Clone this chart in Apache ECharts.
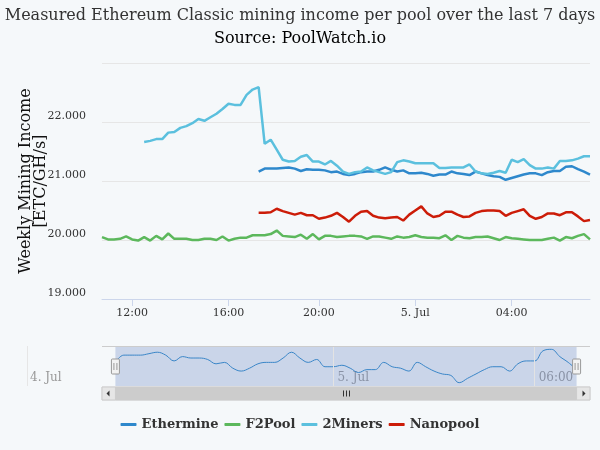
<!DOCTYPE html>
<html>
<head>
<meta charset="utf-8">
<script src="https://cdn.jsdelivr.net/npm/echarts@6/dist/echarts.min.js"></script>
<style>
  html, body { margin: 0; padding: 0; background: #f5f8fa; }
  #chart { width: 600px; height: 450px; }
</style>
</head>
<body>
<div id="chart"></div>
<script>
// Ordinal time axis: one slot per sample (15 min), 18:30 sample missing.
var times = [
  '07-04 10:45', '07-04 11:00', '07-04 11:15', '07-04 11:30', '07-04 11:45',
  '07-04 12:00', '07-04 12:15', '07-04 12:30', '07-04 12:45', '07-04 13:00',
  '07-04 13:15', '07-04 13:30', '07-04 13:45', '07-04 14:00', '07-04 14:15',
  '07-04 14:30', '07-04 14:45', '07-04 15:00', '07-04 15:15', '07-04 15:30',
  '07-04 15:45', '07-04 16:00', '07-04 16:15', '07-04 16:30', '07-04 16:45',
  '07-04 17:00', '07-04 17:15', '07-04 17:30', '07-04 17:45', '07-04 18:00',
  '07-04 18:15', '07-04 18:45', '07-04 19:00', '07-04 19:15', '07-04 19:30',
  '07-04 19:45', '07-04 20:00', '07-04 20:15', '07-04 20:30', '07-04 20:45',
  '07-04 21:00', '07-04 21:15', '07-04 21:30', '07-04 21:45', '07-04 22:00',
  '07-04 22:15', '07-04 22:30', '07-04 22:45', '07-04 23:00', '07-04 23:15',
  '07-04 23:30', '07-04 23:45', '07-05 00:00', '07-05 00:15', '07-05 00:30',
  '07-05 00:45', '07-05 01:00', '07-05 01:15', '07-05 01:30', '07-05 01:45',
  '07-05 02:00', '07-05 02:15', '07-05 02:30', '07-05 02:45', '07-05 03:00',
  '07-05 03:15', '07-05 03:30', '07-05 03:45', '07-05 04:00', '07-05 04:15',
  '07-05 04:30', '07-05 04:45', '07-05 05:00', '07-05 05:15', '07-05 05:30',
  '07-05 05:45', '07-05 06:00', '07-05 06:15', '07-05 06:30', '07-05 06:45',
  '07-05 07:00', '07-05 07:15'
];
var mainTicks = ['07-04 12:00', '07-04 16:00', '07-04 20:00', '07-05 00:00', '07-05 04:00'];
var navTicks = ['07-05 00:00', '07-05 06:00'];
var dayNames = { '07-04': '4. Jul', '07-05': '5. Jul' };

var ethermine = [
  null, null, null, null, null, null, null, null, null, null,
  null, null, null, null, null, null, null, null, null, null,
  null, null, null, null, null, null,
  21.16, 21.21, 21.21, 21.21, 21.22, 21.23, 21.21, 21.17, 21.20, 21.19,
  21.19, 21.18, 21.15, 21.16, 21.12, 21.10, 21.12, 21.15, 21.16, 21.16,
  21.19, 21.23, 21.19, 21.16, 21.18, 21.13, 21.13, 21.14, 21.12, 21.09,
  21.11, 21.11, 21.16, 21.13, 21.12, 21.10, 21.16, 21.13, 21.10, 21.08,
  21.07, 21.02, 21.05, 21.08, 21.11, 21.13, 21.13, 21.10, 21.15, 21.17,
  21.17, 21.24, 21.25, 21.20, 21.16, 21.11
];
var f2pool = [
  20.05, 20.01, 20.01, 20.02, 20.06, 20.01, 19.99, 20.05, 19.99, 20.07,
  20.01, 20.11, 20.02, 20.02, 20.02, 20.00, 20.00, 20.02, 20.02, 20.00,
  20.06, 19.99, 20.02, 20.04, 20.04, 20.08, 20.08, 20.08, 20.10, 20.16,
  20.07, 20.06, 20.05, 20.09, 20.02, 20.10, 20.01, 20.07, 20.07, 20.05,
  20.06, 20.07, 20.07, 20.06, 20.02, 20.06, 20.06, 20.04, 20.02, 20.06,
  20.04, 20.05, 20.08, 20.05, 20.04, 20.04, 20.03, 20.08, 20.00, 20.07,
  20.04, 20.03, 20.05, 20.05, 20.06, 20.03, 20.00, 20.05, 20.03, 20.02,
  20.01, 20.00, 20.00, 20.00, 20.02, 20.04, 19.99, 20.05, 20.03, 20.07,
  20.10, 20.01
];
var twoMiners = [
  null, null, null, null, null, null, null,
  21.66, 21.68, 21.71, 21.71, 21.82, 21.83, 21.90, 21.93, 21.98, 22.05,
  22.02, 22.08, 22.14, 22.22, 22.31, 22.29, 22.29, 22.46, 22.55, 22.59,
  21.63, 21.70, 21.53, 21.36, 21.33, 21.34, 21.41, 21.44, 21.33, 21.33,
  21.28, 21.34, 21.26, 21.16, 21.12, 21.15, 21.16, 21.23, 21.18, 21.15,
  21.12, 21.15, 21.32, 21.35, 21.33, 21.30, 21.30, 21.30, 21.30, 21.22,
  21.22, 21.23, 21.23, 21.23, 21.28, 21.16, 21.13, 21.12, 21.14, 21.17,
  21.14, 21.36, 21.32, 21.37, 21.27, 21.21, 21.21, 21.23, 21.21, 21.34,
  21.34, 21.35, 21.38, 21.42, 21.42
];
var nanopool = [
  null, null, null, null, null, null, null, null, null, null,
  null, null, null, null, null, null, null, null, null, null,
  null, null, null, null, null, null,
  20.46, 20.46, 20.47, 20.53, 20.49, 20.46, 20.43, 20.46, 20.42, 20.42,
  20.36, 20.38, 20.41, 20.46, 20.39, 20.31, 20.41, 20.48, 20.49, 20.41,
  20.38, 20.37, 20.38, 20.39, 20.33, 20.43, 20.50, 20.57, 20.45, 20.39,
  20.41, 20.48, 20.48, 20.43, 20.39, 20.40, 20.46, 20.49, 20.50, 20.50,
  20.49, 20.41, 20.46, 20.49, 20.52, 20.41, 20.36, 20.39, 20.45, 20.45,
  20.42, 20.47, 20.47, 20.40, 20.32, 20.34
];

var pools = [
  { name: 'Ethermine', data: ethermine, color: '#2e88cc' },
  { name: 'F2Pool', data: f2pool, color: '#5cb85c' },
  { name: '2Miners', data: twoMiners, color: '#5bc0de' },
  { name: 'Nanopool', data: nanopool, color: '#cc1c08' }
];

var FONT = '"DejaVu Serif", serif';

function timeLabel(c) {
  var t = c.slice(6);
  return t === '00:00' ? dayNames[c.slice(0, 5)] : t;
}
function isMainTick(i, c) { return mainTicks.indexOf(c) >= 0; }

// navigator shows the Ethermine series over its own extent
var navPoints = [];
ethermine.forEach(function (v, i) { if (v != null) navPoints.push([i, v]); });
var navStart = navPoints[0][0];
var navEnd = navPoints[navPoints.length - 1][0];
var navPad = 1.6;
var navTickIdx = navTicks.map(function (t) { return times.indexOf(t); });

var chart = echarts.init(document.getElementById('chart'), null, { renderer: 'canvas' });

var series = pools.map(function (p) {
  return {
    name: p.name,
    type: 'line',
    data: p.data,
    color: p.color,
    showSymbol: false,
    lineStyle: { width: 2.5, color: p.color },
    emphasis: { disabled: true },
    z: 3
  };
});
series.push({
  name: 'navigator',
  type: 'line',
  xAxisIndex: 1,
  yAxisIndex: 1,
  data: navPoints,
  smooth: 0.4,
  showSymbol: false,
  lineStyle: { width: 1, color: '#3a86c8' },
  emphasis: { disabled: true },
  markArea: {
    silent: true,
    itemStyle: { color: 'rgba(102,133,194,0.3)' },
    data: [[{ xAxis: navStart }, { xAxis: navEnd }]]
  },
  markLine: {
    silent: true,
    symbol: 'none',
    label: { show: false },
    lineStyle: { color: '#e3e3e3', width: 1, type: 'solid' },
    data: navTickIdx.map(function (i) { return { xAxis: i }; })
  }
});

chart.setOption({
  backgroundColor: '#f5f8fa',
  animation: false,
  textStyle: { fontFamily: FONT },
  title: {
    text: 'Measured Ethereum Classic mining income per pool over the last 7 days',
    subtext: 'Source: PoolWatch.io',
    left: 'center',
    top: 3,
    itemGap: 7,
    textStyle: { fontFamily: FONT, fontSize: 16, fontWeight: 'normal', color: '#333' },
    subtextStyle: { fontFamily: FONT, fontSize: 16, color: '#000' }
  },
  legend: {
    data: pools.map(function (p) { return p.name; }),
    left: 'center',
    top: 413,
    icon: 'roundRect',
    itemWidth: 16,
    itemHeight: 3,
    itemGap: 6,
    textStyle: { fontFamily: FONT, fontSize: 13, fontWeight: 'bold', color: '#333' }
  },
  grid: [
    { left: 102, top: 63, width: 488, height: 236 },
    { left: 102, top: 346, width: 488, height: 40 }
  ],
  xAxis: [
    {
      type: 'category',
      data: times,
      boundaryGap: false,
      axisLine: { lineStyle: { color: '#ccd6eb' } },
      axisTick: { interval: isMainTick, length: 7, lineStyle: { color: '#ccd6eb' } },
      axisLabel: { interval: isMainTick, formatter: timeLabel, color: '#333', fontSize: 11, fontFamily: FONT, margin: 9 },
      splitLine: { show: false }
    },
    {
      type: 'value',
      gridIndex: 1,
      min: navStart - navPad,
      max: navEnd + navPad,
      axisLine: { show: false },
      axisTick: { show: false },
      splitLine: { show: false },
      axisLabel: {
        inside: true,
        customValues: navTickIdx,
        formatter: function (v) { return timeLabel(times[v]); },
        align: 'left',
        padding: [0, 0, 0, 4],
        margin: 2,
        color: '#999',
        fontSize: 12,
        fontFamily: FONT
      }
    }
  ],
  yAxis: [
    {
      type: 'value',
      min: 19,
      max: 23,
      interval: 1,
      name: 'Weekly Mining Income\n[ETC/GH/s]',
      nameLocation: 'middle',
      nameGap: 54,
      nameMoveOverlap: false,
      nameTextStyle: { fontFamily: FONT, fontSize: 16, color: '#111', lineHeight: 15 },
      axisLine: { show: false },
      axisTick: { show: false },
      axisLabel: {
        formatter: function (v) { return v.toFixed(3); },
        showMaxLabel: false,
        verticalAlign: 'bottom',
        color: '#333',
        fontSize: 11,
        fontFamily: FONT,
        margin: 16
      },
      splitLine: { lineStyle: { color: '#e6e6e6' } }
    },
    {
      type: 'value',
      gridIndex: 1,
      min: 20.997,
      max: 21.273,
      show: false
    }
  ],
  series: series
});

// navigator chrome: handles, outline and scrollbar sit on the mask edges
var x0 = chart.convertToPixel({ xAxisIndex: 1 }, navStart);
var x1 = chart.convertToPixel({ xAxisIndex: 1 }, navEnd);
var left = 102, right = 590, navTop = 346, navBottom = 386;
var sbTop = navBottom + 1, sbH = 13;

function handle(x) {
  var top = navTop + 13, h = 15;
  return [
    { type: 'rect', shape: { x: x - 4, y: top, width: 8, height: h, r: 1 }, style: { fill: '#f2f2f2', stroke: '#999', lineWidth: 1 }, z: 10 },
    { type: 'line', shape: { x1: x - 1.5, y1: top + 4, x2: x - 1.5, y2: top + h - 4 }, style: { stroke: '#999', lineWidth: 1 }, z: 11 },
    { type: 'line', shape: { x1: x + 1.5, y1: top + 4, x2: x + 1.5, y2: top + h - 4 }, style: { stroke: '#999', lineWidth: 1 }, z: 11 }
  ];
}

var mid = (x0 + x1) / 2, sbMid = sbTop + sbH / 2;
var g = [
  { type: 'line', shape: { x1: left, y1: navTop + 0.5, x2: right, y2: navTop + 0.5 }, style: { stroke: '#cccccc', lineWidth: 1 }, z: 9 },
  { type: 'line', shape: { x1: 27.5, y1: navTop, x2: 27.5, y2: navBottom }, style: { stroke: '#e6e6e6', lineWidth: 1 }, z: 1 },
  { type: 'text', x: 30, y: navBottom - 2, style: { text: dayNames['07-04'], fill: '#999', font: '12px ' + FONT, textVerticalAlign: 'bottom' }, z: 1 },
  // scrollbar
  { type: 'rect', shape: { x: left, y: sbTop, width: right - left, height: sbH }, style: { fill: '#f2f2f2', stroke: '#dddddd', lineWidth: 1 }, z: 9 },
  { type: 'rect', shape: { x: x0, y: sbTop, width: x1 - x0, height: sbH }, style: { fill: '#cccccc', stroke: '#cccccc', lineWidth: 1 }, z: 10 },
  { type: 'rect', shape: { x: left, y: sbTop, width: x0 - left, height: sbH }, style: { fill: '#e6e6e6', stroke: '#cccccc', lineWidth: 1 }, z: 10 },
  { type: 'rect', shape: { x: x1, y: sbTop, width: right - x1, height: sbH }, style: { fill: '#e6e6e6', stroke: '#cccccc', lineWidth: 1 }, z: 10 },
  { type: 'polygon', shape: { points: [[left + 4.5, sbMid], [left + 7.5, sbMid - 3], [left + 7.5, sbMid + 3]] }, style: { fill: '#333' }, z: 11 },
  { type: 'polygon', shape: { points: [[right - 4.5, sbMid], [right - 7.5, sbMid - 3], [right - 7.5, sbMid + 3]] }, style: { fill: '#333' }, z: 11 }
];
[-3, 0, 3].forEach(function (d) {
  g.push({ type: 'line', shape: { x1: mid + d + 0.5, y1: sbMid - 3, x2: mid + d + 0.5, y2: sbMid + 3 }, style: { stroke: '#333', lineWidth: 1 }, z: 11 });
});
g = g.concat(handle(x0), handle(x1));
chart.setOption({ graphic: g });
</script>
</body>
</html>
